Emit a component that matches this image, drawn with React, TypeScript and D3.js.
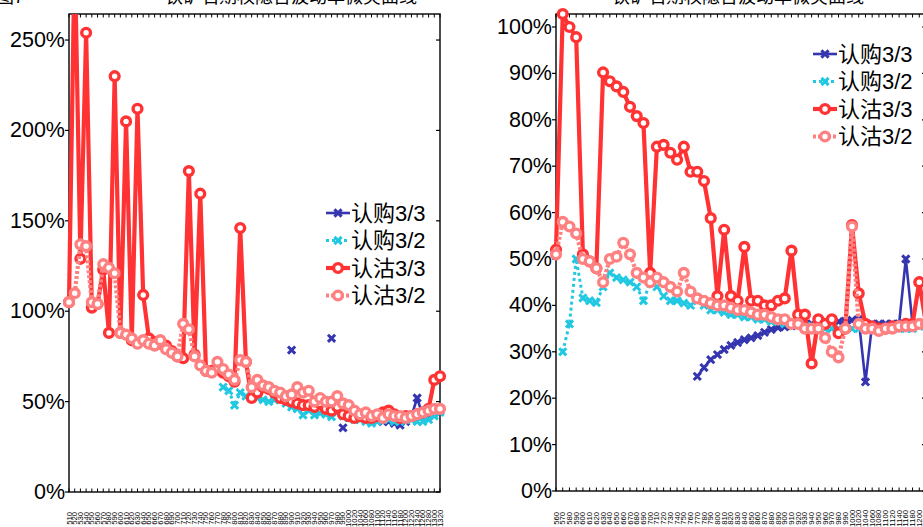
import React from "react";
import * as d3 from "d3";

// ---------- DATA ----------
const seriesNames = ["认购3/3", "认购3/2", "认沽3/3", "认沽3/2"];

const leftStrikes = [
  "510", "520", "530", "540", "550", "560", "570", "580", "590", "600",
  "610", "620", "630", "640", "650", "660", "670", "680", "690", "700",
  "710", "720", "730", "740", "750", "760", "770", "780", "790", "800",
  "810", "820", "830", "840", "850", "860", "870", "880", "890", "900",
  "910", "920", "930", "940", "950", "960", "970", "980", "990",
  "1000", "1020", "1040", "1060", "1080", "1100", "1120", "1140", "1160",
  "1180", "1200", "1220", "1240", "1260", "1280", "1300", "1320",
];

const rightStrikes = [
  "560", "570", "580", "590", "600", "610", "620", "630", "640", "650",
  "660", "670", "680", "690", "700", "710", "720", "730", "740", "750",
  "760", "770", "780", "790", "800", "810", "820", "830", "840", "850",
  "860", "870", "880", "890", "900", "910", "920", "930", "940", "950",
  "960", "970", "980", "990",
  "1000", "1020", "1040", "1060", "1080", "1100", "1120", "1140", "1160",
  "1180", "1200", "1220",
];

const N = null;

// left panel (values in %)
const leftCall33: (number | null)[] = [
  N, N, N, N, N, N, N, N, N, N,
  N, N, N, N, N, N, N, N, N, N,
  N, N, N, N, N, N, N, N, N, N,
  N, N, N, N, N, N, N, N, N, 78.5,
  N, N, N, N, N, N, 85, N, 35.5, N,
  42, 41, 40, 40, 40, 39, 39, 38, 37, 39,
  42, 52, 42, 42, 44, 45,
];
const leftCall32: (number | null)[] = [
  N, N, N, N, N, N, N, N, N, N,
  N, N, N, N, N, N, N, N, N, N,
  N, N, N, N, N, N, N, 58, 56, 48,
  55, 53, 52, 52, 51, 50, 51, 51, 49, 47,
  46, 42.6, 45, 42.6, 43.6, 43, 41.6, 44, 42, 41,
  40, 40, 39, 38, 39, 40, 40, 39, 39, 40,
  40, 39, 39, 40, 42, 44,
];
const leftPut33: (number | null)[] = [
  105, 300, 129, 254, 102, 104, 123, 88, 230, 88,
  205, 84, 212, 109, 85, 83, 82, 81, 78, 75,
  74, 177.5, 76, 165, 67, 67, 68, 66, 64, 61,
  146, 72, 52, 55, 58, 57, 55, 52, 51, 50,
  49, 48, 48, 47, 49, 46, 45, 47, 43, 42,
  41, 42, 41, 41, 42, 44, 45, 43, 41, 42,
  42, 43, 44, 46, 62, 64,
];
const leftPut32: (number | null)[] = [
  105, 110, 137, 136, 105, 104, 126, 124, 121, 88,
  87, 85, 82, 84, 82, 81, 84, 79, 77, 75,
  93, 90, 75, 70, 67, 66, 72, 68, 65, 62,
  73, 72, 58, 62, 59, 58, 56, 55, 53, 54,
  58, 55, 56, 50, 52, 50, 50, 53, 49, 48,
  45, 43, 44, 42, 43, 41, 43, 42, 42, 41,
  42, 43, 44, 45, 46, 46,
];

// right panel (values in %)
const rightCall33: (number | null)[] = [
  N, N, N, N, N, N, N, N, N, N,
  N, N, N, N, N, N, N, N, N, N,
  N, 24.7, 26.6, 28.3, 29.4, 30.5, 31.4, 32, 32.6, 33,
  33.5, 34.2, 34.8, 35.2, 35.4, 35.6, 35.8, 36, 36, 36.2,
  36.3, 36.4, 36.5, 36.6, 36.8, 37, 23.5, 36, 36, 36,
  36, 36, 50, 36, 36, 36,
];
const rightCall32: (number | null)[] = [
  N, 30, 36, 50, 41.6, 41, 40.6, 44, 47, 46,
  45.5, 45, 44, 41, 45, 44, 42, 41, 41, 40.5,
  40, 41, 40, 39, 39, 38.5, 38, 38, 37.5, 37.5,
  37, 37, 36.5, 36.5, 36, 36, 36, 35.5, 35.5, 35,
  35, 35, 35, 35, 35, 35, 35, 35, 35, 35,
  35, 35, 35, 35, 35.5, 35.5,
];
const rightPut33: (number | null)[] = [
  52, 102.8, 100, 97.8, 51, 49.5, 48, 90.2, 88.3, 87.2,
  86, 82.8, 80.8, 79.3, 47, 74.2, 74.6, 72.9, 71.4, 74.2,
  68.8, 68.8, 66.8, 58.8, 42, 56.3, 42, 41, 52.6, 41,
  41, 40, 40, 41, 41.5, 51.8, 38, 38, 27.5, 37,
  36, 37, 34, 35, 57.3, 42.6, 36, 35.5, 35, 35,
  35.5, 35.5, 36, 36, 45, 36,
];
const rightPut32: (number | null)[] = [
  51, 58, 57, 55.5, 50, 49.5, 48, 45, 50, 50.5,
  53.5, 51, 47, 46, 45, 46, 45, 44, 43, 47,
  43, 41.5, 41, 40.5, 40, 40, 39.5, 39, 39, 38.5,
  38, 38, 37.5, 37, 37, 36, 36, 35, 35, 35,
  33, 30, 28.8, 35, 57, 36, 35, 35, 34.5, 35,
  35, 35.5, 35.5, 35.5, 36, 36,
];

const leftYTicks = [0, 50, 100, 150, 200, 250];
const rightYTicks = [0, 10, 20, 30, 40, 50, 60, 70, 80, 90, 100];

// ---------- STYLE ----------
const colors = ["#3535B0", "#22C8E2", "#FF3333", "#FF8080"];
const FONT = "'Liberation Sans', Arial, 'Noto Sans CJK SC', sans-serif";

type Series = (number | null)[];

interface PanelProps {
  x0: number;
  x1: number;
  yTop: number;
  yBottom: number;
  yMax: number;
  labels: string[];
  series: Series[];
  yTicks: number[];
  legendX: number;
  legendY: number;
  id: string;
}

function Marker({ kind, color }: { kind: number; color: string }) {
  if (kind < 2) {
    return (
      <path
        d="M-3.6,-3.6L3.6,3.6M-3.6,3.6L3.6,-3.6"
        stroke={color}
        strokeWidth={3}
        strokeLinecap="butt"
        fill="none"
      />
    );
  }
  return <circle r={4.4} fill="#fff" stroke={color} strokeWidth={3.4} />;
}

function lineStyle(k: number) {
  if (k === 0) return { w: 2.6, dash: undefined as string | undefined };
  if (k === 1) return { w: 3, dash: "3 3" };
  if (k === 2) return { w: 4.2, dash: undefined };
  return { w: 4.2, dash: "3 2" };
}

function Panel(p: PanelProps) {
  const x = d3.scalePoint<string>().domain(p.labels).range([p.x0, p.x1]);
  const y = d3.scaleLinear().domain([0, p.yMax]).range([p.yBottom, p.yTop]);
  const clipId = `clip-${p.id}`;

  return (
    <g>
      <defs>
        <clipPath id={clipId}>
          <rect x={p.x0 - 10} y={p.yTop} width={p.x1 - p.x0 + 20} height={p.yBottom - p.yTop + 10} />
        </clipPath>
      </defs>

      {/* frame */}
      <rect x={p.x0} y={p.yTop} width={p.x1 - p.x0} height={p.yBottom - p.yTop} fill="none" stroke="#000" strokeWidth={1.4} />

      {/* category ticks top & bottom */}
      {p.labels.map((l) => (
        <g key={`t${l}`}>
          <line x1={x(l)} x2={x(l)} y1={p.yBottom} y2={p.yBottom - 3.5} stroke="#000" strokeWidth={1} />
          <line x1={x(l)} x2={x(l)} y1={p.yTop} y2={p.yTop + 3.5} stroke="#000" strokeWidth={1} />
        </g>
      ))}

      {/* y ticks */}
      {p.yTicks.map((t) => (
        <g key={`y${t}`}>
          <line x1={p.x0 - 4} x2={p.x0} y1={y(t)} y2={y(t)} stroke="#000" strokeWidth={1.2} />
          <line x1={p.x1 - 4} x2={p.x1} y1={y(t)} y2={y(t)} stroke="#000" strokeWidth={1.2} />
          <text
            x={p.x0 - 4}
            y={y(t)}
            textAnchor="end"
            dominantBaseline="central"
            fontSize={21.5}
            fontFamily={FONT}
            fill="#000"
          >
            {`${t}%`}
          </text>
        </g>
      ))}

      {/* x labels (rotated) */}
      {p.labels.map((l) => (
        <text
          key={`xl${l}`}
          transform={`translate(${x(l)! + 2.5},518.3) rotate(-90)`}
          textAnchor="middle"
          fontSize={7.8}
          fontFamily={FONT}
          fill="#000"
        >
          {l}
        </text>
      ))}

      {/* series */}
      {p.series.map((s, k) => {
        const st = lineStyle(k);
        const line = d3
          .line<number | null>()
          .defined((d) => d != null)
          .x((_, i) => x(p.labels[i])!)
          .y((d) => y(d as number));
        return (
          <g key={`s${k}`}>
            <path
              d={line(s) || ""}
              fill="none"
              stroke={colors[k]}
              strokeWidth={st.w}
              strokeDasharray={st.dash}
              strokeLinejoin="round"
              clipPath={`url(#${clipId})`}
            />
            {s.map((d, i) =>
              d == null || d > p.yMax ? null : (
                <g key={i} transform={`translate(${x(p.labels[i])},${y(d)})`}>
                  <Marker kind={k} color={colors[k]} />
                </g>
              )
            )}
          </g>
        );
      })}

      {/* legend */}
      {seriesNames.map((n, k) => {
        const st = lineStyle(k);
        const ly = p.legendY + k * 27.5;
        return (
          <g key={`lg${k}`}>
            <line
              x1={p.legendX}
              x2={p.legendX + 24}
              y1={ly}
              y2={ly}
              stroke={colors[k]}
              strokeWidth={st.w}
              strokeDasharray={st.dash}
            />
            <g transform={`translate(${p.legendX + 12},${ly})`}>
              <Marker kind={k} color={colors[k]} />
            </g>
            <text
              x={p.legendX + 25}
              y={ly}
              dominantBaseline="central"
              fontSize={22}
              fontFamily={FONT}
              fill="#000"
            >
              {n}
            </text>
          </g>
        );
      })}
    </g>
  );
}

export default function App() {
  return (
    <svg
      width={923}
      height={527}
      style={{ position: "absolute", left: 0, top: 0, background: "#fff" }}
    >
      <rect width={923} height={527} fill="#fff" />
      {/* titles (cropped at the top in the source image) */}
      <text x={-4} y={3} fontSize={18} fontFamily={FONT} fill="#000">图7</text>
      <text x={165} y={3} fontSize={18} fontFamily={FONT} fill="#000">铁矿石期权隐含波动率微笑曲线</text>
      <text x={612} y={3} fontSize={18} fontFamily={FONT} fill="#000">铁矿石期权隐含波动率微笑曲线</text>

      <Panel
        id="L"
        x0={69}
        x1={440}
        yTop={14}
        yBottom={492}
        yMax={264.4}
        labels={leftStrikes}
        series={[leftCall33, leftCall32, leftPut33, leftPut32]}
        yTicks={leftYTicks}
        legendX={326}
        legendY={213}
      />
      <Panel
        id="R"
        x0={556}
        x1={926}
        yTop={14}
        yBottom={491}
        yMax={102.8}
        labels={rightStrikes}
        series={[rightCall33, rightCall32, rightPut33, rightPut32]}
        yTicks={rightYTicks}
        legendX={813}
        legendY={54}
      />
    </svg>
  );
}
